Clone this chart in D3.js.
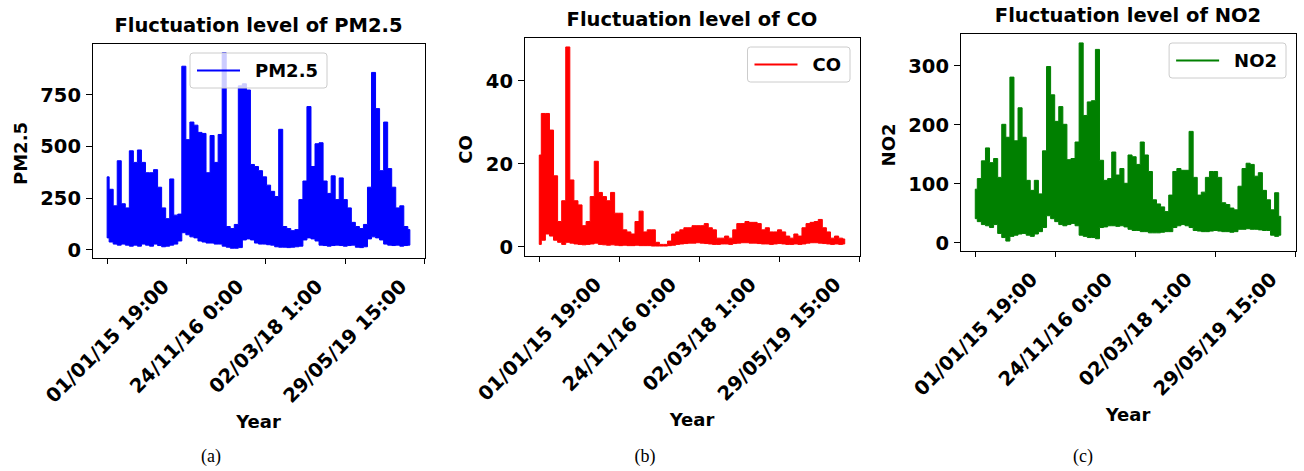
<!DOCTYPE html>
<html>
<head>
<meta charset="utf-8">
<script src="https://cdn.jsdelivr.net/npm/d3@7"></script>
<style>
body { margin: 0; background: white; }
svg text { font-family: "DejaVu Sans", sans-serif; font-weight: bold; fill: black; }
.axis path, .axis line { stroke: black; shape-rendering: crispEdges; }
.caption { font-family: "Liberation Serif", "Times New Roman", serif; font-weight: normal !important; }
</style>
</head>
<body>
<script>
// one sample per bucket of 765 hourly records
const step = 765;
const xTickIndex = [0, 15000, 30000, 45000, 60000];
const xTickLabels = ["01/01/15 19:00", "24/11/16 0:00", "02/03/18 1:00", "29/05/19 15:00", ""];

const pm25Ticks = [0, 250, 500, 750];
const coTicks = [0, 20, 40];
const no2Ticks = [0, 100, 200, 300];

const pm25High = [350,290,210,428,220,200,476,420,480,420,
  370,370,385,300,200,148,340,165,170,885,
  530,615,600,565,560,370,550,420,555,950,
  110,100,120,790,800,770,410,400,380,350,
  310,280,255,580,110,100,90,95,240,330,
  690,400,510,515,330,270,355,240,345,240,
  200,130,110,100,120,300,855,680,380,615,
  390,300,200,210,110,95];
const pm25Low = [55,35,25,20,25,20,15,20,15,25,
  20,15,25,18,12,15,20,25,40,80,
  70,60,55,40,35,30,30,25,25,15,
  10,5,5,8,45,50,45,30,25,25,
  22,20,12,10,10,8,10,12,15,45,
  55,50,40,20,18,15,18,20,18,15,
  18,20,10,8,12,50,60,55,45,25,
  20,18,20,15,18,20];

const coHigh = [22,32,32,28,17,6,11,48,16,11,
  10,5,6,12,20.5,13,12,11,13,8,
  8,4,3.5,3,6,8.5,3.5,4,4,1,
  0.5,0.5,1.3,3,3.5,4,4.5,4.5,5,5,
  5,5.5,4.5,4,2,2,2.5,2,4,5.5,
  5.5,6,5.8,5.8,5.5,4,4.5,3.5,3.5,4,
  3.5,2.5,2,3,2.5,4.5,5.5,5.8,6,6.5,
  4.5,3.5,2,2.5,2,1.8];
const coLow = [0.5,1.5,3,2.5,1.5,1,0.5,1,0.8,0.6,
  0.5,0.4,0.5,0.6,0.8,0.5,0.4,0.3,0.4,0.3,
  0.2,0.3,0.2,0.2,0.3,0.2,0.2,0.2,0.1,0.1,
  0.1,0.1,0.2,0.3,0.5,0.6,0.7,0.8,0.8,0.9,
  0.8,0.7,0.6,0.5,0.5,0.6,0.6,0.5,0.7,0.8,
  0.9,0.9,0.8,0.8,0.7,0.6,0.6,0.5,0.6,0.7,
  0.6,0.5,0.5,0.6,0.5,0.6,0.8,0.9,0.9,0.8,
  0.7,0.6,0.5,0.6,0.5,0.6];

const no2High = [90,108,138,160,135,142,110,200,178,280,
  172,228,178,105,88,105,82,155,298,250,
  205,230,200,140,142,170,338,215,238,240,
  327,139,105,108,153,114,125,100,148,145,
  132,170,148,120,72,65,60,52,80,120,
  125,122,122,188,110,80,85,110,120,120,
  110,67,64,58,55,95,125,134,132,112,
  118,88,72,55,84,44];
const no2Low = [40,35,30,28,25,30,15,8,2,10,
  12,14,15,12,10,14,18,25,45,40,
  35,30,28,30,32,28,12,10,8,8,
  6,25,26,28,28,27,28,26,22,20,
  20,18,18,16,16,16,17,18,18,25,
  28,30,28,25,20,19,18,18,19,20,
  19,18,18,17,18,22,22,23,22,22,
  21,20,20,12,10,12];

const panels = [
  {name: "PM2.5", high: pm25High, low: pm25Low, ticks: pm25Ticks, color: "#0000ff",
   box: {left: 92, right: 425, top: 43, bottom: 258}, legendAt: "center", caption: "(a)", captionX: 211},
  {name: "CO", high: coHigh, low: coLow, ticks: coTicks, color: "#ff0000",
   box: {left: 524, right: 860, top: 37, bottom: 256}, legendAt: "right", caption: "(b)", captionX: 645},
  {name: "NO2", high: no2High, low: no2Low, ticks: no2Ticks, color: "#008000",
   box: {left: 960, right: 1296, top: 33, bottom: 251}, legendAt: "right", caption: "(c)", captionX: 1083}
];

const tickFont = 19.5, labelFont = 18, titleFont = 19.5, legendFont = 18;

const svg = d3.select("body").append("svg")
  .attr("width", 1304).attr("height", 471);

panels.forEach(p => {
  const b = p.box;
  const n = p.high.length;
  const idx = d3.range(n);

  const xMax = (n - 1) * step;
  const xPad = xMax * 0.05;
  const x = d3.scaleLinear().domain([-xPad, xMax + xPad]).range([b.left, b.right]);

  const yMin = d3.min(p.low), yMaxV = d3.max(p.high);
  const yPad = (yMaxV - yMin) * 0.05;
  const y = d3.scaleLinear().domain([yMin - yPad, yMaxV + yPad]).range([b.bottom, b.top]);

  const g = svg.append("g");

  // dense hourly series drawn as its min/max band
  const area = d3.area()
    .x(i => x(i * step))
    .y0(i => y(p.low[i]))
    .y1(i => y(p.high[i]))
    .curve(d3.curveStep);

  g.append("path")
    .datum(idx)
    .attr("d", area)
    .attr("fill", p.color)
    .attr("stroke", p.color)
    .attr("stroke-width", 1);

  // frame
  g.append("rect")
    .attr("x", b.left).attr("y", b.top)
    .attr("width", b.right - b.left).attr("height", b.bottom - b.top)
    .attr("fill", "none").attr("stroke", "black").attr("stroke-width", 1)
    .attr("shape-rendering", "crispEdges");

  // x axis
  const xAxis = d3.axisBottom(x)
    .tickValues(xTickIndex)
    .tickFormat((d, i) => xTickLabels[i])
    .tickSize(6).tickSizeOuter(0);
  const gx = g.append("g").attr("class", "axis")
    .attr("transform", `translate(0,${b.bottom})`)
    .call(xAxis);
  gx.select(".domain").remove();
  gx.selectAll("text")
    .attr("font-size", tickFont)
    .attr("x", 0).attr("y", 0).attr("dy", null)
    .attr("text-anchor", "middle")
    .attr("dominant-baseline", "central")
    .attr("transform", function() {
      const L = this.getComputedTextLength();
      const cy = 20 + (L + 0.75 * tickFont) / (2 * Math.SQRT2);
      return `translate(0,${cy}) rotate(-45)`;
    });

  // y axis
  const yAxis = d3.axisLeft(y).tickValues(p.ticks).tickSize(6).tickPadding(5).tickSizeOuter(0);
  const gy = g.append("g").attr("class", "axis")
    .attr("transform", `translate(${b.left},0)`)
    .call(yAxis);
  gy.select(".domain").remove();
  gy.selectAll("text").attr("font-size", tickFont).attr("dy", "0.36em");

  const yb = gy.node().getBBox();
  g.append("text")
    .attr("font-size", labelFont)
    .attr("text-anchor", "middle")
    .attr("dominant-baseline", "central")
    .attr("transform", `translate(${b.left + yb.x - 20},${(b.top + b.bottom) / 2 + 3}) rotate(-90)`)
    .text(p.name);

  g.append("text")
    .attr("font-size", labelFont)
    .attr("text-anchor", "middle")
    .attr("x", (b.left + b.right) / 2)
    .attr("y", b.bottom + 170)
    .text("Year");

  g.append("text")
    .attr("font-size", titleFont)
    .attr("text-anchor", "middle")
    .attr("x", (b.left + b.right) / 2)
    .attr("y", b.top - 11)
    .text("Fluctuation level of " + p.name);

  // legend
  const lg = g.append("g");
  const lt = lg.append("text")
    .attr("font-size", legendFont)
    .attr("dominant-baseline", "central")
    .text(p.name);
  const tw = lt.node().getComputedTextLength();
  const lw = 7 + 43 + 15 + tw + 9, lh = 35;
  const lx = p.legendAt === "center" ? (b.left + b.right) / 2 - lw / 2 : b.right - 10 - lw;
  const ly = b.top + 10;
  lg.insert("rect", "text")
    .attr("x", lx).attr("y", ly).attr("width", lw).attr("height", lh)
    .attr("rx", 3)
    .attr("fill", "white").attr("fill-opacity", 0.8)
    .attr("stroke", "#cccccc").attr("stroke-width", 1);
  lg.insert("line", "text")
    .attr("x1", lx + 7).attr("x2", lx + 50)
    .attr("y1", ly + lh / 2).attr("y2", ly + lh / 2)
    .attr("stroke", p.color).attr("stroke-width", 2);
  lt.attr("x", lx + 65).attr("y", ly + lh / 2);

  svg.append("text")
    .attr("class", "caption")
    .attr("font-size", 18)
    .attr("text-anchor", "middle")
    .attr("x", p.captionX)
    .attr("y", 462)
    .text(p.caption);
});
</script>
</body>
</html>
